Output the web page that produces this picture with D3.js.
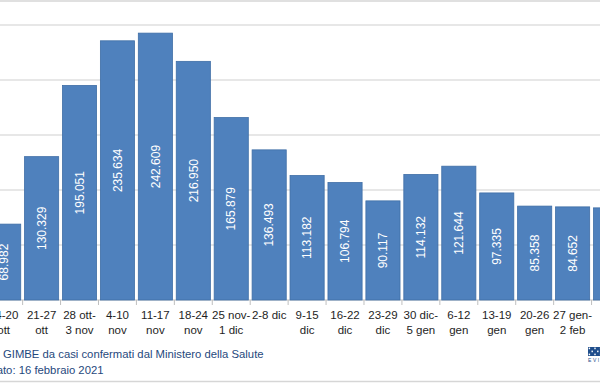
<!DOCTYPE html>
<html>
<head>
<meta charset="utf-8">
<script src="https://cdn.jsdelivr.net/npm/d3@7"></script>
<style>
  body { margin: 0; background: #fff; }
  svg { display: block; font-family: "Liberation Sans", Arial, sans-serif; }
</style>
</head>
<body>
<div id="chart"></div>
<script>
// weekly categories (label lines split by "|")
var weeks = ["14-20|ott", "21-27|ott", "28 ott-|3 nov", "4-10|nov", "11-17|nov", "18-24|nov",
  "25 nov-|1 dic", "2-8 dic", "9-15|dic", "16-22|dic", "23-29|dic", "30 dic-|5 gen",
  "6-12|gen", "13-19|gen", "20-26|gen", "27 gen-|2 feb", "3-9|feb"];
// new confirmed cases per week
var cases = [68982, 130329, 195051, 235634, 242609, 216950, 165879, 136493, 113182,
  106794, 90117, 114132, 121644, 97335, 85358, 84652, 83758];
// printed value labels
var caseLabels = ["68.982", "130.329", "195.051", "235.634", "242.609", "216.950", "165.879",
  "136.493", "113.182", "106.794", "90.117", "114.132", "121.644", "97.335", "85.358", "84.652", "83.758"];
var yTicks = [0, 50000, 100000, 150000, 200000, 250000, 300000];

var width = 600,
  height = 383;

var svg = d3.select("#chart").append("svg")
  .attr("width", width)
  .attr("height", height);

//the plot is cropped on both sides, so the band range runs past the window
var x = d3.scaleBand()
  .domain(weeks)
  .range([-15.3, 629.5])
  .paddingInner(0.1)
  .paddingOuter(0.05);

var y = d3.scaleLinear()
  .domain([0, 300000])
  .range([300, -30]);

//frame lines
svg.append("rect")
  .attr("x", -10).attr("y", 1)
  .attr("width", width + 20).attr("height", 380.5)
  .attr("fill", "none")
  .attr("stroke", "#d6d6d6")
  .attr("stroke-width", 1.5);

//horizontal gridlines
svg.append("g")
  .selectAll("line")
  .data(yTicks.slice(1))
  .enter()
  .append("line")
  .attr("x1", -20).attr("x2", width + 20)
  .attr("y1", function(d) { return y(d); })
  .attr("y2", function(d) { return y(d); })
  .attr("stroke", "#cfcfcf")
  .attr("stroke-width", 1.2);

//x axis: baseline and tick marks between categories
var xAxis = svg.append("g")
  .attr("transform", "translate(0," + y(0) + ")");
xAxis.append("line")
  .attr("x1", -20).attr("x2", width + 20)
  .attr("stroke", "#bfbfbf");
xAxis.selectAll(".tick-mark")
  .data(weeks)
  .enter()
  .append("line")
  .attr("class", "tick-mark")
  .attr("x1", function(d) { return x(d) - x.step() * x.paddingInner() / 2; })
  .attr("x2", function(d) { return x(d) - x.step() * x.paddingInner() / 2; })
  .attr("y1", 0).attr("y2", 5)
  .attr("stroke", "#bfbfbf");

//bars
svg.append("g")
  .selectAll("rect")
  .data(cases)
  .enter()
  .append("rect")
  .attr("x", function(d, i) { return x(weeks[i]); })
  .attr("y", function(d) { return y(d); })
  .attr("width", x.bandwidth())
  .attr("height", function(d) { return y(0) - y(d); })
  .attr("fill", "#4f81bd")
  .attr("stroke", "#3f6ea6")
  .attr("stroke-width", 0.8);

//value labels, rotated, in the middle of each bar
svg.append("g")
  .selectAll("text")
  .data(cases)
  .enter()
  .append("text")
  .attr("transform", function(d, i) {
    var cx = x(weeks[i]) + x.bandwidth() / 2;
    var cy = (y(d) + y(0)) / 2;
    return "translate(" + cx + "," + cy + ") rotate(-90)";
  })
  .attr("text-anchor", "middle")
  .attr("dy", "0.35em")
  .attr("fill", "#fff")
  .attr("font-size", 12)
  .text(function(d, i) { return caseLabels[i]; });

//category labels
var catLabels = svg.append("g")
  .selectAll("text")
  .data(weeks)
  .enter()
  .append("text")
  .attr("x", function(d) { return x(d) + x.bandwidth() / 2; })
  .attr("y", 319)
  .attr("text-anchor", "middle")
  .attr("fill", "#1e1e1e")
  .attr("font-size", 11.5);

catLabels.each(function(d) {
  var t = d3.select(this);
  var cx = x(d) + x.bandwidth() / 2;
  d.split("|").forEach(function(line, j) {
    t.append("tspan")
      .attr("x", cx)
      .attr("dy", j === 0 ? 0 : 15)
      .text(line);
  });
});

//source note, cropped on the left like the picture
var note1 = svg.append("text")
  .attr("y", 357.5)
  .attr("fill", "#1f497d")
  .attr("font-size", 11.3)
  .text("Fonte: elaborazione GIMBE da casi confermati dal Ministero della Salute");
var cut1 = note1.node().getSubStringLength(0, "Fonte: elaborazione ".length);
note1.attr("x", 3 - cut1);

var note2 = svg.append("text")
  .attr("y", 373.5)
  .attr("fill", "#1f497d")
  .attr("font-size", 11.3)
  .text("Aggiornato: 16 febbraio 2021");
var cut2 = note2.node().getSubStringLength(0, "Aggiorna".length);
note2.attr("x", 3 - cut2);

//small Evidence logo in the corner
var logo = svg.append("g").attr("transform", "translate(588,347)");
logo.append("rect")
  .attr("width", 14).attr("height", 9)
  .attr("fill", "#1f4e8c");
for (var r = 0; r < 3; r++) {
  for (var c = 0; c < 5; c++) {
    if ((r + c) % 2 === 0) {
      logo.append("rect")
        .attr("x", c * 2.8 + 0.7).attr("y", r * 3 + 0.6)
        .attr("width", 1.4).attr("height", 1.6)
        .attr("fill", "#fff");
    }
  }
}
logo.append("text")
  .attr("x", 0).attr("y", 14.5)
  .attr("font-size", 5)
  .attr("letter-spacing", 1.6)
  .attr("fill", "#1f4e8c")
  .text("EVIDENCE");
</script>
</body>
</html>
